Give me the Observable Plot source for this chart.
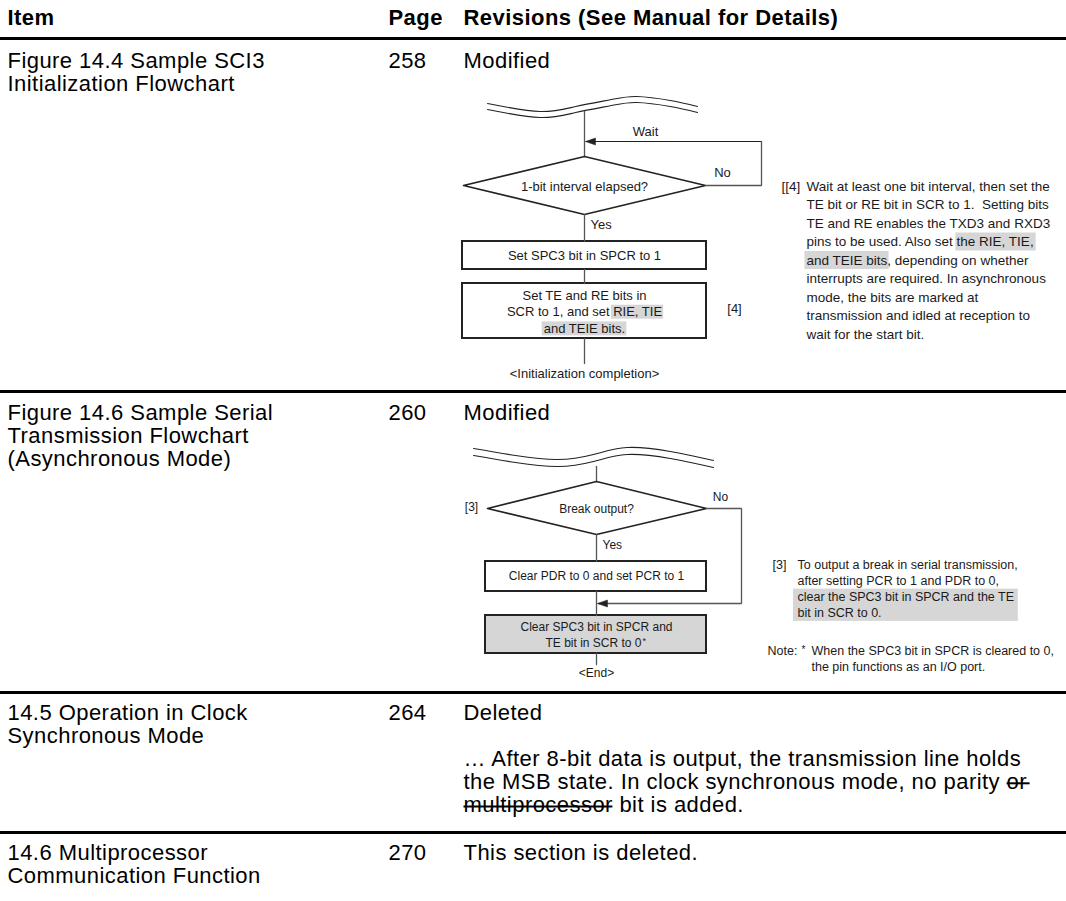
<!DOCTYPE html>
<html><head><meta charset="utf-8">
<script src="https://cdn.jsdelivr.net/npm/d3@7"></script>
<script src="https://cdn.jsdelivr.net/npm/@observablehq/plot@0.6"></script>
<style>html,body{margin:0;padding:0;background:#fff} svg{display:block}</style>
</head><body><div id="chart"></div>
<script>
// ---------------- DATA (content only) ----------------
const headers = ["Item", "Page", "Revisions (See Manual for Details)"];
const itemLines = [
  ["Figure 14.4 Sample SCI3", "Initialization Flowchart"],
  ["Figure 14.6 Sample Serial", "Transmission Flowchart", "(Asynchronous Mode)"],
  ["14.5 Operation in Clock", "Synchronous Mode"],
  ["14.6 Multiprocessor", "Communication Function"]
];
const pages = ["258", "260", "264", "270"];
const revisionKinds = ["Modified", "Modified", "Deleted", "This section is deleted."];
const deletedLines = [
  "\u2026 After 8-bit data is output, the transmission line holds",
  "the MSB state. In clock synchronous mode, no parity or",
  "multiprocessor bit is added."
];
const deletedStrikes = [null, "or", "multiprocessor"];

const fig1Labels = ["Wait", "No", "Yes", "[4]", "<Initialization completion>"];
const fig1Decision = "1-bit interval elapsed?";
const fig1Step1 = "Set SPC3 bit in SPCR to 1";
const fig1Step2 = ["Set TE and RE bits in", "SCR to 1, and set RIE, TIE", "and TEIE bits."];
const fig1Step2Marks = [null, "RIE, TIE", "and TEIE bits."];
const fig1Note = [
  "Wait at least one bit interval, then set the",
  "TE bit or RE bit in SCR to 1. \u00a0Setting bits",
  "TE and RE enables the TXD3 and RXD3",
  "pins to be used. Also set the RIE, TIE,",
  "and TEIE bits, depending on whether",
  "interrupts are required. In asynchronous",
  "mode, the bits are marked at",
  "transmission and idled at reception to",
  "wait for the start bit."
];
const fig1NoteMarks = [null, null, null, "the RIE, TIE,", "and TEIE bits", null, null, null, null];
const fig1NoteTag = "[[4]";

const fig2Labels = ["[3]", "No", "Yes", "<End>"];
const fig2Decision = "Break output?";
const fig2Step1 = "Clear PDR to 0 and set PCR to 1";
const fig2Step2 = ["Clear SPC3 bit in SPCR and", "TE bit in SCR to 0"];
const fig2Note = [
  "To output a break in serial transmission,",
  "after setting PCR to 1 and PDR to 0,",
  "clear the SPC3 bit in SPCR and the TE",
  "bit in SCR to 0."
];
const fig2NoteTag = "[3]";
const fig2Footnote = ["When the SPC3 bit in SPCR is cleared to 0,", "the pin functions as an I/O port."];
const fig2FootTag = ["Note:", "*"];

// ---------------- LAYOUT ----------------
const W = 1066, H = 901;
const FONT = "'Liberation Sans', Arial, Helvetica, sans-serif";
const L = {
  colX: [7, 388, 463], headerY: 17, rules: [38, 391, 692, 832],
  rowY: [60, 412, 712, 852], lh: 23.3, big: 22, ls: 0.45
};
const HL = "#d6d6d6", LINE = "#555", INK = "#1a1a1a";

const ctx = document.createElement("canvas").getContext("2d");
function tw(s, size, weight = "normal", ls = 0) { ctx.font = `${weight} ${size}px ${FONT}`; return ctx.measureText(s).width + ls * s.length; }

const texts = [], rects = [], paths = [], tris = [];
function addText(x, y, t, size, anchor = "start", weight = "normal", fill = INK) { texts.push({x, y, t, size, anchor, weight, fill}); }
function addPath(id, pts, stroke, sw, curve = "linear") { pts.forEach(([x, y], i) => paths.push({id, x, y, i, stroke, sw, curve})); }
function addRect(x1, y1, x2, y2, fill, stroke = "none", sw = 0) { rects.push({x1, y1, x2, y2, fill, stroke, sw}); }
function arrowLeft(id, x, y) { [[x, y], [x + 10, y - 3.5], [x + 10, y + 3.5], [x, y]].forEach(([a, b], i) => tris.push({id, x: a, y: b, i})); }
function markSpan(line, sub, size, x0, anchor, y, padX = 1.5, padY = 8.5, last = false, ls = 0) {
  const full = tw(line, size, "normal", ls);
  const start = anchor === "middle" ? x0 - full / 2 : x0;
  const idx = last ? line.lastIndexOf(sub) : line.indexOf(sub);
  const a = start + tw(line.slice(0, idx), size, "normal", ls);
  return [a - padX, y - padY, a + tw(sub, size, "normal", ls) - ls + padX, y + padY];
}

// --- table ---
headers.forEach((h, i) => addText(L.colX[i], L.headerY, h, L.big, "start", "bold", "#000"));
itemLines.forEach((lines, r) => lines.forEach((t, k) => addText(L.colX[0], L.rowY[r] + k * L.lh, t, L.big, "start", "normal", "#000")));
pages.forEach((p, r) => addText(L.colX[1], L.rowY[r], p, L.big, "start", "normal", "#000"));
revisionKinds.forEach((p, r) => addText(L.colX[2], L.rowY[r], p, L.big, "start", "normal", "#000"));
const strikes = [];
deletedLines.forEach((t, k) => {
  const y = L.rowY[2] + 46 + k * L.lh;
  addText(L.colX[2], y, t, L.big, "start", "normal", "#000");
  if (deletedStrikes[k]) {
    const [a, , b] = markSpan(t, deletedStrikes[k], L.big, L.colX[2], "start", y, 0, 0, true, L.ls);
    strikes.push({x1: a, x2: b + (k === 1 ? 3 : 0), y: y + 1.5});
  }
});

// --- figure 1 ---
{
  const cx = 584, l = 462, r = 706, s = 13;
  const wave = [[0, 0], [0.25, 8], [0.42, 3], [0.59, -4], [0.71, -7], [0.87, -3], [1, 3]];
  [0, 6].forEach((o, j) => addPath("w1" + j, wave.map(([fx, dy]) => [487 + fx * 210, 103 + dy + o]), "#222", 1.1, "natural"));
  addPath("f1v0", [[cx, 111], [cx, 156]], LINE, 1.3);
  addPath("f1wait", [[761, 141], [cx + 2, 141]], "#222", 1.1);
  arrowLeft("f1a", cx + 1, 141);
  addText(645, 131, fig1Labels[0], s, "middle");
  addPath("f1d", [[l + 1, 185], [cx, 156], [r - 1, 185], [cx, 214], [l + 1, 185]], "#222", 1.6);
  addText(cx, 186, fig1Decision, s, "middle");
  addText(722, 172, fig1Labels[1], s, "middle");
  addPath("f1no", [[r - 1, 185], [761, 185], [761, 141]], LINE, 1.3);
  addText(590, 224, fig1Labels[2], s, "start");
  addPath("f1v1", [[cx, 214], [cx, 241]], LINE, 1.3);
  addRect(l, 241, r, 269, "#fff", "#222", 2);
  addText(cx, 255, fig1Step1, s, "middle");
  addPath("f1v2", [[cx, 269], [cx, 283]], LINE, 1.3);
  addRect(l, 283, r, 338, "#fff", "#222", 2);
  fig1Step2.forEach((t, k) => {
    const y = 295 + k * 16.7;
    if (fig1Step2Marks[k]) { const [a, b, c, d] = markSpan(t, fig1Step2Marks[k], s, cx, "middle", y, 1.5, 7); addRect(a, b, c, d, HL); }
    addText(cx, y, t, s, "middle");
  });
  addText(734, 308, fig1Labels[3], s, "middle");
  addPath("f1v3", [[cx, 338], [cx, 363]], LINE, 1.3);
  addText(cx, 373, fig1Labels[4], s, "middle");
  // note
  const ns = 13.5, nx = 806, ny = 186, nlh = 18.5;
  addText(781, ny, fig1NoteTag, ns, "start");
  fig1Note.forEach((t, k) => {
    const y = ny + k * nlh;
    if (fig1NoteMarks[k]) { const [a, b, c, d] = markSpan(t, fig1NoteMarks[k], ns, nx, "start", y, 1.5, 9); addRect(a, b, c, d, HL); }
    addText(nx, y, t, ns, "start");
  });
}

// --- figure 2 ---
{
  const cx = 596, l = 485, r = 706, s = 12;
  const wave = [[0, 0], [0.175, 7], [0.35, 11], [0.5, 6], [0.64, -1], [0.82, 3], [1, 12]];
  [0, 7].forEach((o, j) => addPath("w2" + j, wave.map(([fx, dy]) => [473 + fx * 240, 448 + dy + o]), "#222", 1.1, "natural"));
  addPath("f2v0", [[cx, 466], [cx, 481]], LINE, 1.3);
  addPath("f2d", [[487, 508], [cx, 481], [r, 508], [cx, 534], [487, 508]], "#222", 1.6);
  addText(cx, 509, fig2Decision, s, "middle");
  addText(471, 507, fig2Labels[0], s, "middle");
  addText(720, 497, fig2Labels[1], s, "middle");
  addPath("f2no", [[r, 508], [741, 508], [741, 603], [cx + 2, 603]], LINE, 1.3);
  arrowLeft("f2a", cx + 1, 603);
  addText(602, 545, fig2Labels[2], s, "start");
  addPath("f2v1", [[cx, 534], [cx, 561]], LINE, 1.3);
  addRect(l, 561, r, 591, "#fff", "#222", 2);
  addText(cx, 576, fig2Step1, s, "middle");
  addPath("f2v2", [[cx, 591], [cx, 615]], LINE, 1.3);
  addRect(l, 615, r, 653, HL, "#222", 2);
  addText(cx, 627, fig2Step2[0], s, "middle");
  const w2 = tw(fig2Step2[1], s);
  addText(cx - 3, 643, fig2Step2[1], s, "middle");
  addText(cx - 3 + w2 / 2 + 1, 641, fig2FootTag[1], 9, "start");
  addPath("f2v3", [[cx, 653], [cx, 664]], LINE, 1.3);
  addText(cx, 673, fig2Labels[3], s, "middle");
  // note
  const ns = 12.5, nx = 797, ny = 564, nlh = 16.3;
  addText(772, ny, fig2NoteTag, ns, "start");
  addRect(nx - 4, ny + 2 * nlh - 8, nx + tw(fig2Note[2], ns) + 4, ny + 3 * nlh + 8, HL);
  fig2Note.forEach((t, k) => addText(nx, ny + k * nlh, t, ns, "start"));
  addText(767, 650, fig2FootTag[0], ns, "start");
  addText(801, 649, fig2FootTag[1], 10, "start");
  fig2Footnote.forEach((t, k) => addText(811, 650 + k * 16, t, ns, "start"));
}

// ---------------- PLOT ----------------
const marks = [];
marks.push(Plot.rect(rects, {x1: "x1", y1: "y1", x2: "x2", y2: "y2", fill: d => d.fill, stroke: d => d.stroke, strokeWidth: d => d.sw}));
for (const [id, pts] of d3.groups(paths, d => d.id)) {
  const p0 = pts[0];
  marks.push(Plot.line(pts, {x: "x", y: "y", stroke: p0.stroke, strokeWidth: p0.sw, curve: p0.curve, fill: "none", strokeLinejoin: "miter"}));
}
marks.push(Plot.line(tris, {x: "x", y: "y", z: "id", fill: "#222", stroke: "#222", strokeWidth: 0.5}));
marks.push(Plot.ruleY(L.rules, {y: d => d, x1: 0, x2: W, stroke: "#000", strokeWidth: 3}));
marks.push(Plot.link(strikes, {x1: "x1", x2: "x2", y1: "y", y2: "y", stroke: "#000", strokeWidth: 2}));
for (const [k, arr] of d3.groups(texts, d => `${d.size}|${d.anchor}|${d.weight}`)) {
  const d0 = arr[0];
  marks.push(Plot.text(arr, {x: "x", y: "y", text: "t", fontSize: d0.size, textAnchor: d0.anchor, fontWeight: d0.weight, fill: d => d.fill, fontFamily: FONT}));
}

const chart = Plot.plot({
  width: W, height: H, margin: 0,
  x: {domain: [0, W], range: [0, W], axis: null},
  y: {domain: [0, H], range: [0, H], axis: null},
  style: {fontFamily: FONT, background: "#fff", overflow: "visible"},
  marks
});
// body-text tracking of the table (large type only)
d3.select(chart).selectAll("g[font-size]").filter(function () { return +this.getAttribute("font-size") === L.big; })
  .attr("letter-spacing", L.ls);
document.getElementById("chart").appendChild(chart);
</script>
</body></html>
